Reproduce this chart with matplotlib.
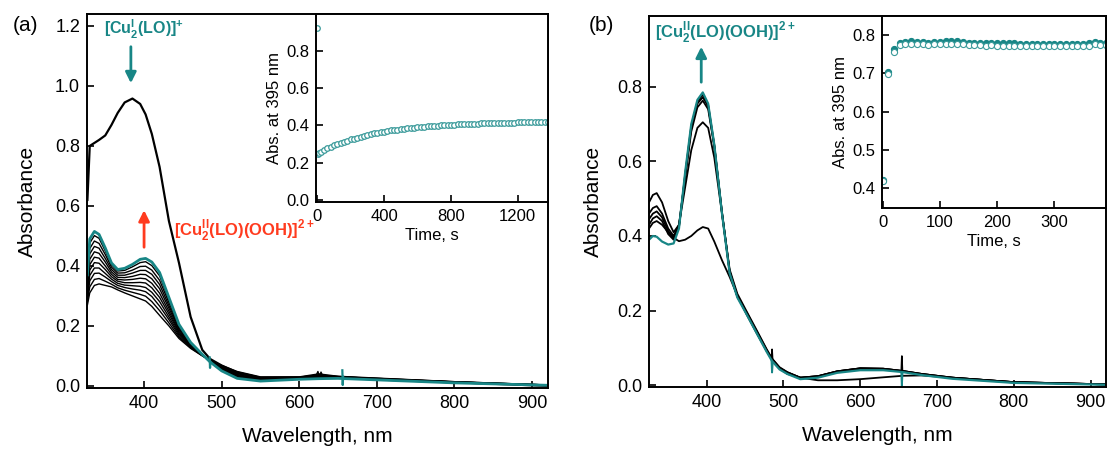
import numpy as np
import matplotlib
matplotlib.use("Agg")
import matplotlib.pyplot as plt

plt.rcParams["font.family"] = ["Liberation Sans", "DejaVu Sans"]
plt.rcParams["mathtext.fontset"] = "custom"
plt.rcParams["mathtext.rm"] = "Liberation Sans"
plt.rcParams["mathtext.bf"] = "Liberation Sans:bold"

TEAL = "#188686"
TEAL_LIGHT = "#3a9a9a"
RED = "#ff3b1f"

# ---------------- panel (a): spectra ----------------
wl_a = [327, 330, 336, 342, 350, 358, 366, 375, 385, 395, 402, 410, 420, 432, 445,
        460, 475, 485, 500, 520, 550, 600, 625, 650, 700, 800, 920]

initial_a = [0.62, 0.80, 0.81, 0.82, 0.835, 0.87, 0.91, 0.945, 0.958, 0.94, 0.905, 0.84, 0.73, 0.55, 0.41,
             0.23, 0.12, 0.09, 0.068, 0.045, 0.027, 0.028, 0.033, 0.03, 0.022, 0.012, 0.0]

# intermediate scans, top (near final) to bottom
scans_a = [
    [0.362, 0.476, 0.501, 0.492, 0.450, 0.404, 0.383, 0.385, 0.397, 0.411, 0.414, 0.401, 0.367, 0.287, 0.201,
     0.143, 0.105, 0.081, 0.051, 0.027, 0.017, 0.023, 0.025, 0.026, 0.020, 0.010, 0.002],
    [0.352, 0.458, 0.483, 0.475, 0.438, 0.396, 0.376, 0.377, 0.386, 0.398, 0.399, 0.386, 0.352, 0.278, 0.197,
     0.141, 0.104, 0.081, 0.053, 0.029, 0.019, 0.023, 0.026, 0.026, 0.021, 0.011, 0.002],
    [0.342, 0.440, 0.465, 0.459, 0.425, 0.388, 0.369, 0.369, 0.376, 0.385, 0.385, 0.372, 0.338, 0.268, 0.192,
     0.139, 0.104, 0.082, 0.055, 0.032, 0.020, 0.024, 0.028, 0.027, 0.021, 0.011, 0.002],
    [0.332, 0.422, 0.447, 0.442, 0.413, 0.380, 0.362, 0.361, 0.365, 0.372, 0.371, 0.357, 0.324, 0.259, 0.187,
     0.137, 0.103, 0.082, 0.057, 0.034, 0.021, 0.025, 0.029, 0.028, 0.022, 0.012, 0.002],
    [0.322, 0.404, 0.429, 0.426, 0.400, 0.372, 0.355, 0.353, 0.355, 0.359, 0.357, 0.342, 0.309, 0.249, 0.182,
     0.135, 0.103, 0.083, 0.059, 0.036, 0.022, 0.026, 0.031, 0.028, 0.023, 0.012, 0.002],
    [0.312, 0.386, 0.411, 0.409, 0.388, 0.364, 0.349, 0.344, 0.344, 0.345, 0.343, 0.327, 0.295, 0.240, 0.178,
     0.133, 0.102, 0.084, 0.061, 0.038, 0.023, 0.026, 0.032, 0.029, 0.023, 0.012, 0.002],
    [0.302, 0.368, 0.393, 0.393, 0.375, 0.356, 0.342, 0.336, 0.334, 0.332, 0.328, 0.312, 0.281, 0.230, 0.173,
     0.131, 0.102, 0.084, 0.062, 0.041, 0.025, 0.027, 0.034, 0.030, 0.024, 0.013, 0.003],
    [0.292, 0.350, 0.375, 0.376, 0.363, 0.348, 0.335, 0.328, 0.323, 0.319, 0.314, 0.298, 0.266, 0.221, 0.168,
     0.129, 0.101, 0.085, 0.064, 0.043, 0.026, 0.028, 0.035, 0.030, 0.025, 0.013, 0.003],
    [0.281, 0.330, 0.355, 0.358, 0.349, 0.339, 0.327, 0.319, 0.312, 0.305, 0.299, 0.281, 0.251, 0.210, 0.163,
     0.127, 0.101, 0.086, 0.066, 0.045, 0.028, 0.029, 0.037, 0.031, 0.025, 0.014, 0.003],
    [0.270, 0.310, 0.335, 0.340, 0.335, 0.330, 0.320, 0.310, 0.300, 0.290, 0.283, 0.265, 0.235, 0.200, 0.158,
     0.125, 0.100, 0.087, 0.068, 0.048, 0.030, 0.030, 0.040, 0.032, 0.026, 0.014, 0.003],
]

final_a = [0.37, 0.49, 0.515, 0.505, 0.46, 0.41, 0.388, 0.392, 0.405, 0.422, 0.425, 0.413, 0.378, 0.295, 0.205,
           0.145, 0.105, 0.08, 0.05, 0.025, 0.016, 0.022, 0.024, 0.025, 0.02, 0.01, 0.002]

# lamp-change glitches
glitch_black_a_wl = [620, 622, 624, 626, 628, 630, 632]
glitch_black_a = [0.033, 0.036, 0.048, 0.031, 0.046, 0.034, 0.035]
glitch_teal_a_wl = [[484.5, 485, 485.5], [655.5, 656, 656.5]]
glitch_teal_a = [[0.095, 0.06, 0.08], [0.052, 0.003, 0.03]]

# inset (a): kinetics at 395 nm
time_a = np.concatenate([[0, 5, 10], np.arange(20, 1381, 20)])
abs_a = [0.92, 0.245, 0.25,
         0.259, 0.268, 0.277, 0.285, 0.292, 0.299, 0.306, 0.312, 0.318, 0.324,
         0.329, 0.334, 0.339, 0.344, 0.348, 0.352, 0.356, 0.359, 0.363, 0.366,
         0.369, 0.372, 0.374, 0.377, 0.379, 0.382, 0.384, 0.386, 0.388, 0.389,
         0.391, 0.393, 0.394, 0.396, 0.397, 0.398, 0.400, 0.401, 0.402, 0.403,
         0.404, 0.405, 0.405, 0.406, 0.407, 0.408, 0.408, 0.409, 0.410, 0.410,
         0.411, 0.411, 0.412, 0.412, 0.413, 0.413, 0.414, 0.414, 0.414, 0.415,
         0.415, 0.415, 0.415, 0.416, 0.416, 0.416, 0.416, 0.417, 0.417]

# ---------------- panel (b): spectra ----------------
wl_b = [325, 330, 335, 342, 350, 357, 364, 372, 380, 388, 395, 402, 410, 420, 430, 440,
        452, 465, 478, 485, 495, 505, 522, 545, 570, 600, 630, 655, 680, 720, 800, 920]

scans_b = [
    [0.42, 0.435, 0.44, 0.43, 0.41, 0.395, 0.386, 0.39, 0.40, 0.415, 0.424, 0.42, 0.385, 0.335, 0.29, 0.24,
     0.19, 0.14, 0.092, 0.07, 0.045, 0.03, 0.02, 0.013, 0.013, 0.016, 0.021, 0.025, 0.026, 0.02, 0.008, 0.002],
    [0.49, 0.51, 0.515, 0.49, 0.44, 0.41, 0.43, 0.53, 0.63, 0.69, 0.705, 0.69, 0.61, 0.46, 0.31, 0.245,
     0.198, 0.148, 0.097, 0.072, 0.048, 0.035, 0.02, 0.024, 0.037, 0.045, 0.044, 0.038, 0.03, 0.02, 0.008, 0.002],
    [0.46, 0.475, 0.48, 0.46, 0.42, 0.40, 0.43, 0.555, 0.68, 0.745, 0.763, 0.74, 0.64, 0.465, 0.305, 0.24,
     0.195, 0.145, 0.095, 0.07, 0.046, 0.034, 0.02, 0.024, 0.037, 0.045, 0.044, 0.038, 0.03, 0.02, 0.008, 0.002],
    [0.445, 0.46, 0.466, 0.45, 0.413, 0.395, 0.425, 0.56, 0.69, 0.755, 0.772, 0.748, 0.642, 0.462, 0.303, 0.238,
     0.194, 0.144, 0.094, 0.069, 0.046, 0.034, 0.02, 0.024, 0.037, 0.045, 0.044, 0.038, 0.03, 0.02, 0.008, 0.002],
    [0.43, 0.447, 0.453, 0.44, 0.405, 0.39, 0.423, 0.565, 0.695, 0.76, 0.779, 0.752, 0.644, 0.461, 0.302, 0.237,
     0.193, 0.143, 0.093, 0.068, 0.045, 0.033, 0.019, 0.023, 0.036, 0.044, 0.043, 0.037, 0.029, 0.019, 0.007, 0.002],
]

final_b = [0.39, 0.40, 0.398, 0.385, 0.377, 0.38, 0.42, 0.57, 0.70, 0.765, 0.785, 0.755, 0.645, 0.46, 0.30, 0.235,
           0.19, 0.14, 0.09, 0.065, 0.042, 0.03, 0.016, 0.02, 0.033, 0.04, 0.04, 0.035, 0.027, 0.017, 0.006, 0.001]

glitch_black_b_wl = [[484.5, 485.2, 486], [653.5, 654.2, 655]]
glitch_black_b = [[0.07, 0.096, 0.065], [0.038, 0.078, 0.036]]
glitch_teal_b_wl = [[484.5, 485.2, 486], [653.5, 654.2, 655]]
glitch_teal_b = [[0.066, 0.034, 0.06], [0.035, -0.002, 0.033]]

# inset (b): kinetics at 395 nm, two overlapping traces
time_b = np.arange(0, 391, 10)
abs_b_filled = [0.423, 0.703, 0.762, 0.779, 0.782, 0.783, 0.782, 0.781, 0.780, 0.781,
                0.782, 0.783, 0.783, 0.783, 0.781, 0.780, 0.779, 0.779, 0.778, 0.779,
                0.778, 0.778, 0.778, 0.778, 0.777, 0.777, 0.777, 0.777, 0.777, 0.777,
                0.777, 0.777, 0.777, 0.777, 0.777, 0.777, 0.778, 0.781, 0.779, 0.779]
abs_b_open = [0.419, 0.698, 0.756, 0.773, 0.776, 0.777, 0.776, 0.775, 0.774, 0.775,
              0.776, 0.777, 0.777, 0.777, 0.775, 0.774, 0.773, 0.773, 0.772, 0.773,
              0.772, 0.772, 0.772, 0.772, 0.771, 0.771, 0.771, 0.771, 0.771, 0.771,
              0.771, 0.771, 0.771, 0.771, 0.771, 0.771, 0.772, 0.775, 0.773, 0.773]


def style_axes(ax, size):
    for sp in ax.spines.values():
        sp.set_linewidth(1.4)
    ax.tick_params(direction="in", length=5, width=1.2, labelsize=size, pad=5,
                   top=False, right=False)


fig = plt.figure(figsize=(11.1, 4.49), dpi=100)

# ---- (a) main
ax_a = fig.add_axes([0.0784, 0.1359, 0.4153, 0.833])
for row in scans_a:
    ax_a.plot(wl_a, row, color="black", lw=1.0)
ax_a.plot(glitch_black_a_wl, glitch_black_a, color="black", lw=1.0)
ax_a.plot(wl_a, initial_a, color="black", lw=1.6)
ax_a.plot(wl_a, final_a, color=TEAL, lw=2.0)
for gx, gy in zip(glitch_teal_a_wl, glitch_teal_a):
    ax_a.plot(gx, gy, color=TEAL, lw=1.6)
ax_a.set_xlim(326.5, 920.5)
ax_a.set_ylim(-0.007, 1.24)
ax_a.set_xticks([400, 500, 600, 700, 800, 900])
ax_a.set_yticks([0.0, 0.2, 0.4, 0.6, 0.8, 1.0, 1.2])
ax_a.yaxis.set_major_formatter(plt.FormatStrFormatter("%.1f"))
style_axes(ax_a, 13)
ax_a.set_xlabel("Wavelength, nm", fontsize=15, labelpad=11)
ax_a.set_ylabel("Absorbance", fontsize=15, labelpad=13)

ax_a.annotate("", xy=(383, 1.0), xytext=(383, 1.14),
              arrowprops=dict(arrowstyle="-|>", color=TEAL, lw=2, mutation_scale=16))
ax_a.text(400, 1.19, r"[Cu$^{\mathbf{I}}_{\mathbf{2}}$(LO)]$^{\mathbf{+}}$", color=TEAL,
          fontsize=11.5, fontweight="bold", ha="center", va="center")
ax_a.annotate("", xy=(400, 0.595), xytext=(400, 0.453),
              arrowprops=dict(arrowstyle="-|>", color=RED, lw=2, mutation_scale=16))
ax_a.text(529, 0.52, r"[Cu$^{\mathbf{II}}_{\mathbf{2}}$(LO)(OOH)]$^{\mathbf{2+}}$", color=RED,
          fontsize=12, fontweight="bold", ha="center", va="center")

# ---- (a) inset
in_a = fig.add_axes([0.2850, 0.5508, 0.2086, 0.4180])
in_a.plot(time_a, abs_a, "o", ms=4.0, mfc="white", mec=TEAL_LIGHT, mew=0.9)
in_a.set_xlim(-5, 1380)
in_a.set_ylim(-0.01, 0.997)
in_a.set_xticks([0, 400, 800, 1200])
in_a.set_yticks([0.0, 0.2, 0.4, 0.6, 0.8])
in_a.yaxis.set_major_formatter(plt.FormatStrFormatter("%.1f"))
style_axes(in_a, 12)
in_a.set_xlabel("Time, s", fontsize=12, labelpad=3)
in_a.set_ylabel("Abs. at 395 nm", fontsize=12, labelpad=3)

# ---- (b) main
ax_b = fig.add_axes([0.5847, 0.1381, 0.4117, 0.8263])
for row in scans_b:
    ax_b.plot(wl_b, row, color="black", lw=1.3)
for gx, gy in zip(glitch_black_b_wl, glitch_black_b):
    ax_b.plot(gx, gy, color="black", lw=1.2)
ax_b.plot(wl_b, final_b, color=TEAL, lw=1.6)
for gx, gy in zip(glitch_teal_b_wl, glitch_teal_b):
    ax_b.plot(gx, gy, color=TEAL, lw=1.4)
ax_b.set_xlim(325, 920)
ax_b.set_ylim(-0.005, 0.99)
ax_b.set_xticks([400, 500, 600, 700, 800, 900])
ax_b.set_yticks([0.0, 0.2, 0.4, 0.6, 0.8])
ax_b.yaxis.set_major_formatter(plt.FormatStrFormatter("%.1f"))
style_axes(ax_b, 13)
ax_b.set_xlabel("Wavelength, nm", fontsize=15, labelpad=11)
ax_b.set_ylabel("Absorbance", fontsize=15, labelpad=10)

ax_b.annotate("", xy=(393, 0.915), xytext=(393, 0.805),
              arrowprops=dict(arrowstyle="-|>", color=TEAL, lw=2, mutation_scale=16))
ax_b.text(424, 0.947, r"[Cu$^{\mathbf{II}}_{\mathbf{2}}$(LO)(OOH)]$^{\mathbf{2+}}$", color=TEAL,
          fontsize=12, fontweight="bold", ha="center", va="center")

# ---- (b) inset
in_b = fig.add_axes([0.7946, 0.5361, 0.2018, 0.4290])
in_b.plot(time_b, abs_b_filled, "o", ms=4.4, mfc=TEAL, mec=TEAL, mew=0.8)
in_b.plot(time_b, abs_b_open, "o", ms=4.4, mfc="white", mec=TEAL_LIGHT, mew=0.8)
in_b.set_xlim(-1, 390)
in_b.set_ylim(0.348, 0.85)
in_b.set_xticks([0, 100, 200, 300])
in_b.set_yticks([0.4, 0.5, 0.6, 0.7, 0.8])
style_axes(in_b, 12)
in_b.set_xlabel("Time, s", fontsize=12, labelpad=3)
in_b.set_ylabel("Abs. at 395 nm", fontsize=12, labelpad=3)

fig.text(0.0234, 0.944, "(a)", fontsize=15, ha="center", va="center")
fig.text(0.542, 0.944, "(b)", fontsize=15, ha="center", va="center")

fig.savefig("out.png", dpi=100)
